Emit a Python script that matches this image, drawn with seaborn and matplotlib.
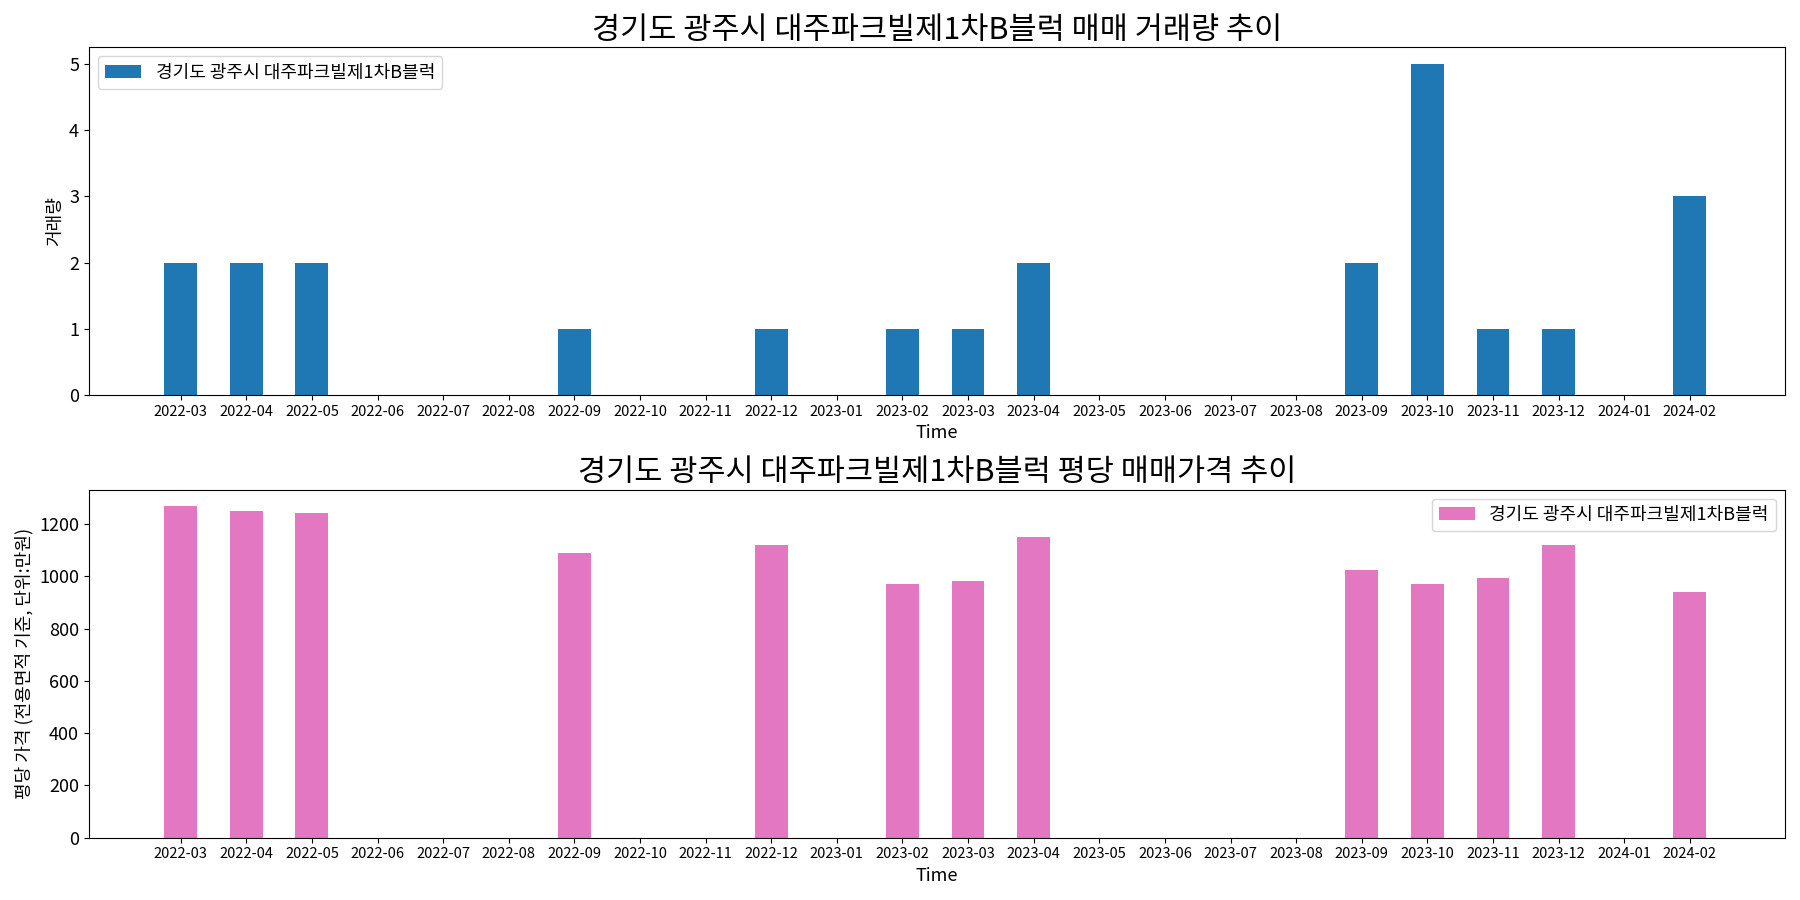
import matplotlib
matplotlib.use("Agg")
import matplotlib.pyplot as plt
from matplotlib import font_manager as fm
import seaborn as sns
import pandas as pd

fam = None
for f in fm.fontManager.ttflist:
    if "CJK" in f.name and ("KR" in f.name or "Korean" in f.name):
        fam = f.name
        break
if fam is None:
    for f in fm.fontManager.ttflist:
        if "CJK" in f.name:
            fam = f.name
            break
if fam is None:
    import glob
    for p in glob.glob("/usr/share/fonts/**/*CJK*", recursive=True):
        try:
            fm.fontManager.addfont(p)
        except Exception:
            pass
    for f in fm.fontManager.ttflist:
        if "CJK" in f.name:
            fam = f.name
            break
plt.rcParams["font.family"] = [fam or "Noto Sans CJK KR", "DejaVu Sans"]
plt.rcParams["axes.unicode_minus"] = False

months = ["2022-03","2022-04","2022-05","2022-06","2022-07","2022-08","2022-09","2022-10",
          "2022-11","2022-12","2023-01","2023-02","2023-03","2023-04","2023-05","2023-06",
          "2023-07","2023-08","2023-09","2023-10","2023-11","2023-12","2024-01","2024-02"]
volume = [2,2,2,0,0,0,1,0,0,1,0,1,1,2,0,0,0,0,2,5,1,1,0,3]
price = [1267,1248,1242,0,0,0,1090,0,0,1120,0,972,983,1150,0,0,0,0,1022,972,995,1120,0,940]
name = "경기도 광주시 대주파크빌제1차B블럭"

df = pd.DataFrame({"Time": months, "vol": volume, "price": price})

fig, (ax1, ax2) = plt.subplots(2, 1, figsize=(18, 9), dpi=100)

sns.barplot(data=df, x="Time", y="vol", color="#1f77b4", saturation=1, width=0.5, ax=ax1, label=name)
ax1.set_title(f"{name} 매매 거래량 추이", fontsize=22)
ax1.set_ylabel("거래량", fontsize=13)
ax1.set_xlabel("Time", fontsize=13)
ax1.legend(loc="upper left", fontsize=13)

sns.barplot(data=df, x="Time", y="price", color="#e377c2", saturation=1, width=0.5, ax=ax2, label=name)
ax2.set_title(f"{name} 평당 매매가격 추이", fontsize=22)
ax2.set_ylabel("평당 가격 (전용면적 기준, 단위:만원)", fontsize=13)
ax2.set_xlabel("Time", fontsize=13)
ax2.legend(loc="upper right", fontsize=13)

for ax in (ax1, ax2):
    ax.tick_params(axis="x", labelsize=10.5)
    ax.tick_params(axis="y", labelsize=13)
    ax.set_xlim(-1.4, 24.45)

plt.tight_layout()
fig.savefig("out.png")
